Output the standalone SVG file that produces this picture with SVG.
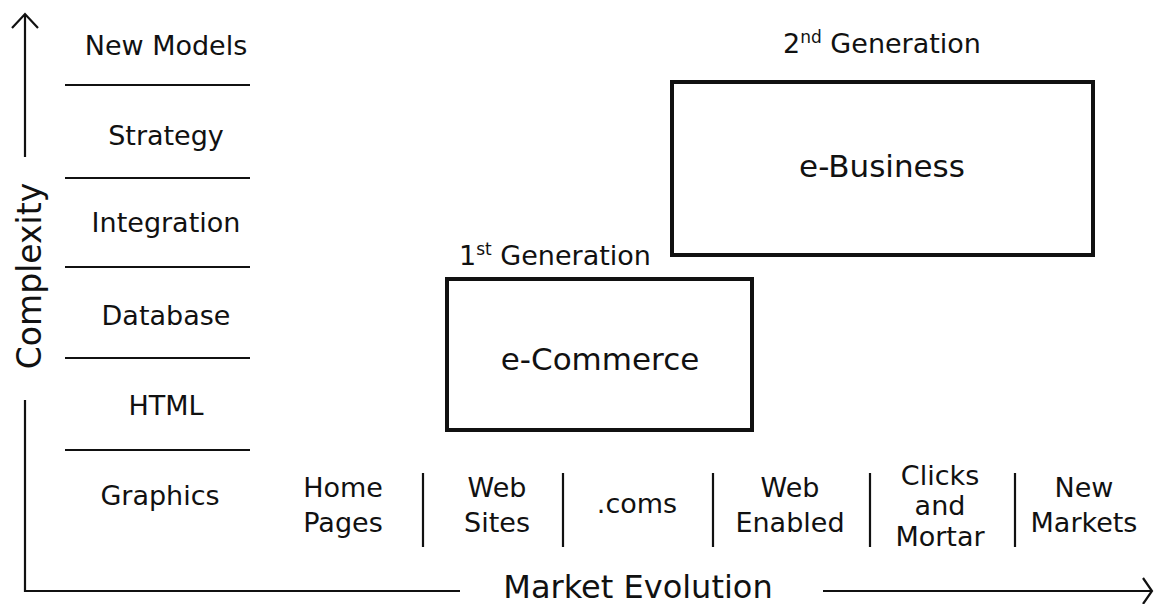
<svg xmlns="http://www.w3.org/2000/svg" width="1155" height="604" viewBox="0 0 1155 604">
<style>
text{font-family:"DejaVu Sans","Liberation Sans",sans-serif;fill:#111;text-anchor:middle}
.lbl{font-size:27px}
.big{font-size:31px}
.ax{stroke:#111;stroke-width:2.2;fill:none}
.box{stroke:#111;stroke-width:4;fill:#fff}
</style>
<rect width="1155" height="604" fill="#fff"/>
<g id="connectors">
<path class="ax" d="M25,157 V14 M12,28 L25,14 L38,28"/>
<path class="ax" d="M25,400 V591 H460"/>
<path class="ax" d="M823,591 H1152 M1143,578 L1152,591 L1143,604"/>
<path class="ax" d="M65,85 H250 M65,178 H250 M65,267 H250 M65,358 H250 M65,450 H250"/>
<path class="ax" d="M423,473 V547 M563,473 V547 M713,473 V547 M870,473 V547 M1015,473 V547"/>
</g>
<g id="axis-y"><text transform="translate(41,276) rotate(-90)" style="font-size:33px">Complexity</text></g>
<g id="axis-x"><text x="638" y="598" style="font-size:32px">Market Evolution</text></g>
<g id="levels">
<text class="lbl" x="166" y="55">New Models</text>
<text class="lbl" x="166" y="145">Strategy</text>
<text class="lbl" x="166" y="232">Integration</text>
<text class="lbl" x="166" y="325">Database</text>
<text class="lbl" x="166" y="415">HTML</text>
<text class="lbl" x="160" y="505">Graphics</text>
</g>
<g id="stages">
<text class="lbl" x="343" y="497">Home</text><text class="lbl" x="343" y="532">Pages</text>
<text class="lbl" x="497" y="497">Web</text><text class="lbl" x="497" y="532">Sites</text>
<text class="lbl" x="637" y="513">.coms</text>
<text class="lbl" x="790" y="497">Web</text><text class="lbl" x="790" y="532">Enabled</text>
<text class="lbl" x="940" y="485">Clicks</text><text class="lbl" x="940" y="515">and</text><text class="lbl" x="940" y="546">Mortar</text>
<text class="lbl" x="1084" y="497">New</text><text class="lbl" x="1084" y="532">Markets</text>
</g>
<g id="ecommerce">
<text class="lbl" x="555" y="265">1<tspan font-size="17" dy="-10">st</tspan><tspan dy="10"> Generation</tspan></text>
<rect class="box" x="447" y="279" width="305" height="151"/>
<text class="big" x="600" y="370">e-Commerce</text>
</g>
<g id="ebusiness">
<text class="lbl" x="882" y="53">2<tspan font-size="17" dy="-10">nd</tspan><tspan dy="10"> Generation</tspan></text>
<rect class="box" x="672" y="82" width="421" height="173"/>
<text class="big" x="882" y="177">e-Business</text>
</g>
</svg>
